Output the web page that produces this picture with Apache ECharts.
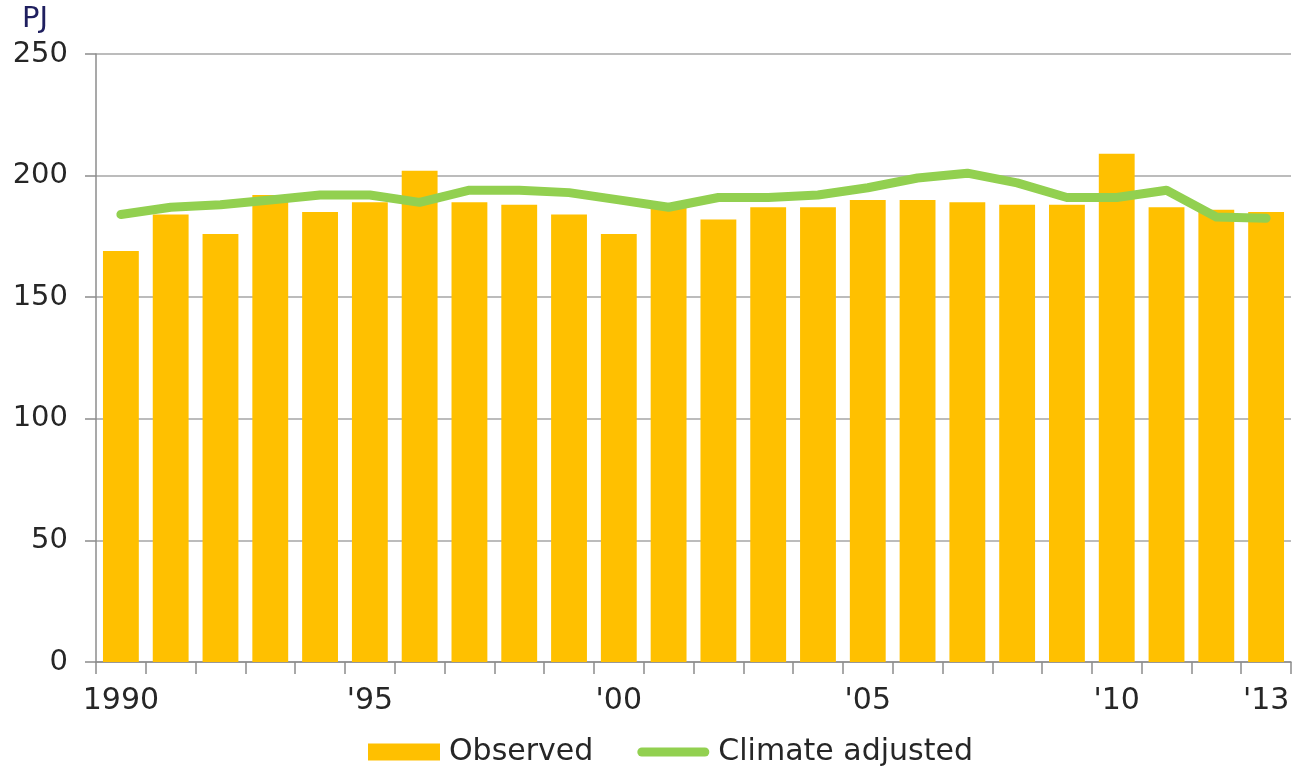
<!DOCTYPE html>
<html>
<head>
<meta charset="utf-8">
<script src="https://cdn.jsdelivr.net/npm/echarts@6/dist/echarts.min.js"></script>
<style>
html,body{margin:0;padding:0;background:#fff;}
#chart{width:1293px;height:767px;}
</style>
</head>
<body>
<div id="chart"></div>
<script>
const years = ['1990',"'91","'92","'93","'94","'95","'96","'97","'98","'99","'00","'01","'02","'03","'04","'05","'06","'07","'08","'09","'10","'11","'12","'13"];
const shownLabelIdx = [0, 5, 10, 15, 20, 23];
const observed = [169, 184, 176, 192, 185, 189, 202, 189, 188, 184, 176, 187, 182, 187, 187, 190, 190, 189, 188, 188, 209, 187, 186, 185];
const climateAdjusted = [184, 187, 188, 190, 192, 192, 189, 194, 194, 193, 190, 187, 191, 191, 192, 195, 199, 201, 197, 191, 191, 194, 183, 182.5];
const yTicks = {min: 0, max: 250, interval: 50};

const font = 'DejaVu Sans, Verdana, sans-serif';
const chart = echarts.init(document.getElementById('chart'));
chart.setOption({
  animation: false,
  backgroundColor: '#ffffff',
  textStyle: {fontFamily: font},
  grid: {left: 96, right: 2, top: 54, bottom: 105, containLabel: false},
  graphic: [{
    type: 'text', left: 22, top: 5,
    style: {text: 'PJ', fontSize: 29, fontFamily: font, fill: '#1f1f5f'}
  }],
  legend: {
    left: 363, top: 732,
    itemWidth: 72, itemHeight: 17, itemGap: 44,
    textStyle: {fontSize: 30, color: '#262626', fontFamily: font, padding: [0, 0, 0, 4]},
    data: [
      {name: 'Observed', icon: 'rect'},
      {name: 'Climate adjusted', icon: 'path://M4.5,0 L67.5,0 A4.5,4.5 0 0 1 67.5,9 L4.5,9 A4.5,4.5 0 0 1 4.5,0 Z', itemStyle: {color: '#92D050'}}
    ]
  },
  xAxis: {
    type: 'category',
    data: years,
    boundaryGap: true,
    axisLine: {lineStyle: {color: '#8c8c8c', width: 1.5}},
    axisTick: {show: true, interval: 0, length: 12, lineStyle: {color: '#8c8c8c', width: 1.5}},
    axisLabel: {
      interval: (idx) => shownLabelIdx.includes(idx),
      fontSize: 30, color: '#262626', margin: 24, fontFamily: font
    },
    splitLine: {show: false}
  },
  yAxis: {
    type: 'value',
    min: yTicks.min, max: yTicks.max, interval: yTicks.interval,
    axisLine: {show: true, lineStyle: {color: '#8c8c8c', width: 1.5}},
    axisTick: {show: true, length: 11, lineStyle: {color: '#8c8c8c', width: 1.5}},
    axisLabel: {fontSize: 29, color: '#262626', margin: 28, fontFamily: font},
    splitLine: {lineStyle: {color: '#a6a6a6', width: 1.5}}
  },
  series: [
    {
      name: 'Observed', type: 'bar', data: observed,
      barCategoryGap: '28%',
      itemStyle: {color: '#FFC000'},
      z: 2
    },
    {
      name: 'Climate adjusted', type: 'line', data: climateAdjusted,
      symbol: 'none', showSymbol: false,
      lineStyle: {color: '#92D050', width: 9, cap: 'round', join: 'round'},
      itemStyle: {color: '#92D050'},
      z: 3
    }
  ]
});
</script>
</body>
</html>
